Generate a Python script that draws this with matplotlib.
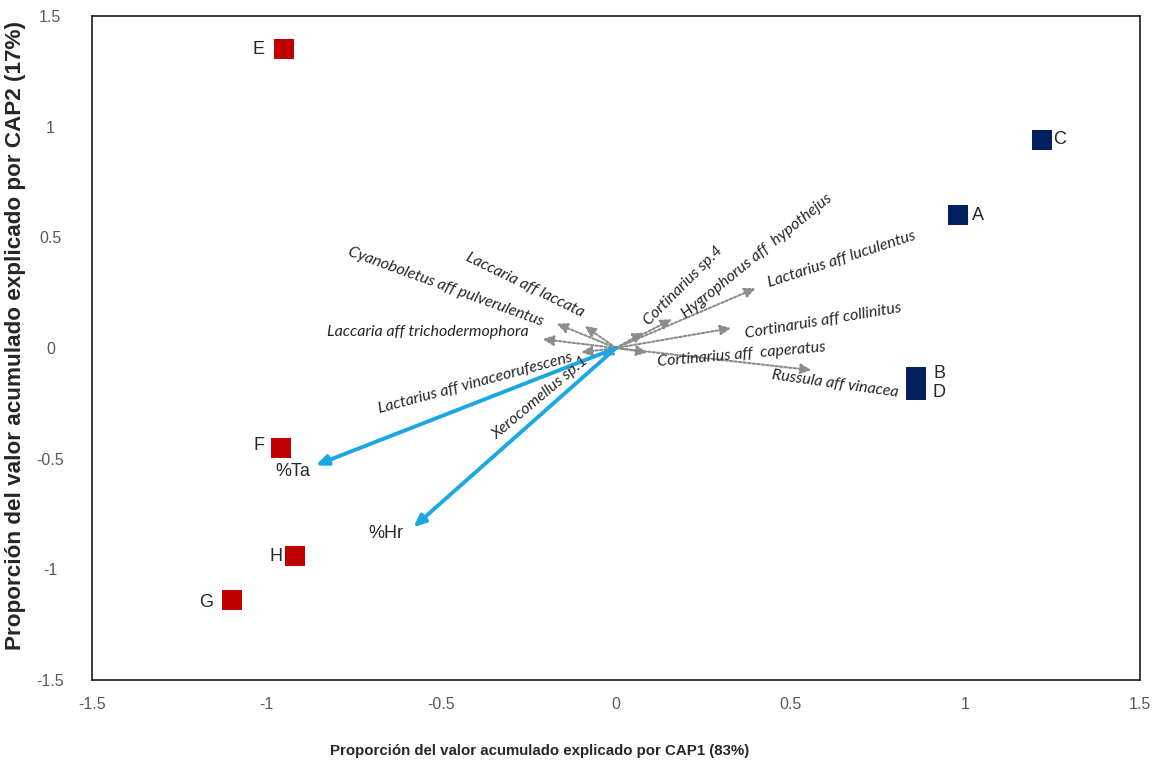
#!/usr/bin/env python3
"""CAP biplot: sites on the first two canonical axes with species and climate vectors."""

import matplotlib as mpl
import matplotlib.pyplot as plt

RED = "#C00000"
NAVY = "#002060"
SKY = "#1AA7E3"
ARROW_GREY = "#8C8C8C"
TICK_GREY = "#595959"
INK = "#262626"

# site scores
sites_red = ["E", "F", "H", "G"]
red_x = [-0.95, -0.96, -0.92, -1.10]
red_y = [1.35, -0.45, -0.94, -1.14]

sites_navy = ["C", "A", "B", "D"]
navy_x = [1.22, 0.98, 0.86, 0.86]
navy_y = [0.94, 0.60, -0.13, -0.19]

# environmental vectors
env_names = ["%Ta", "%Hr"]
env_x = [-0.86, -0.58]
env_y = [-0.53, -0.81]

# species vectors
species = [
    "Laccaria aff laccata",
    "Cyanoboletus aff pulverulentus",
    "Laccaria aff trichodermophora",
    "Lactarius aff vinaceorufescens",
    "Xerocomellus sp.1",
    "Cortinarius sp.4",
    "Hygrophorus aff  hypothejus",
    "Lactarius aff luculentus",
    "Cortinaruis aff collinitus",
    "Cortinarius aff  caperatus",
    "Russula aff vinacea",
]
species_x = [-0.09, -0.17, -0.21, -0.10, -0.04, 0.08, 0.16, 0.40, 0.33, 0.09, 0.56]
species_y = [0.10, 0.11, 0.04, -0.02, -0.04, 0.07, 0.13, 0.27, 0.09, -0.02, -0.10]

x_ticks = [-1.5, -1, -0.5, 0, 0.5, 1, 1.5]
y_ticks = [-1.5, -1, -0.5, 0, 0.5, 1, 1.5]

# label placement: (x, y, rotation) for each species name
SPECIES_LABELS = {
    "Laccaria aff laccata": (-0.26, 0.285, -26),
    "Cyanoboletus aff pulverulentus": (-0.487, 0.276, -20),
    "Laccaria aff trichodermophora": (-0.538, 0.072, 0),
    "Lactarius aff vinaceorufescens": (-0.404, -0.158, 15),
    "Xerocomellus sp.1": (-0.218, -0.226, 40),
    "Cortinarius sp.4": (0.192, 0.28, 45),
    "Hygrophorus aff  hypothejus": (0.404, 0.416, 39),
    "Lactarius aff luculentus": (0.647, 0.402, 18),
    "Cortinaruis aff collinitus": (0.593, 0.122, 9.5),
    "Cortinarius aff  caperatus": (0.358, -0.032, 5),
    "Russula aff vinacea": (0.627, -0.163, -8),
}
# site label offsets from the marker centre (dx, dy)
SITE_OFFSETS = {
    "E": (-0.074, 0.0),
    "F": (-0.063, 0.01),
    "H": (-0.052, 0.0),
    "G": (-0.074, -0.01),
    "C": (0.05, 0.0),
    "A": (0.057, 0.0),
    "B": (0.066, 0.017),
    "D": (0.066, -0.013),
}
ENV_OFFSETS = {
    "%Ta": (-0.065, -0.03),
    "%Hr": (-0.08, -0.03),
}


def main() -> None:
    mpl.rcParams.update(
        {
            "font.family": ["Liberation Sans", "DejaVu Sans"],
            "axes.linewidth": 1.2,
            "axes.edgecolor": "#1a1a1a",
        }
    )
    fig = plt.figure(figsize=(11.57, 7.61), dpi=100, facecolor="white")
    ax = fig.add_axes([0.0795, 0.1064, 0.9058, 0.8726])

    # species vectors: dotted grey
    for name, sx, sy in zip(species, species_x, species_y):
        ax.annotate(
            "",
            xy=(sx, sy),
            xytext=(0, 0),
            arrowprops=dict(
                arrowstyle="-|>,head_length=0.65,head_width=0.3",
                color=ARROW_GREY,
                lw=1.5,
                linestyle=(0, (1.2, 1.0)),
                shrinkA=0,
                shrinkB=0,
            ),
            zorder=2,
        )
        lx, ly, rot = SPECIES_LABELS[name]
        ax.text(
            lx, ly, name,
            rotation=rot, rotation_mode="anchor",
            ha="center", va="center",
            fontsize=11.5, style="italic", color=INK,
            family=["Lato", "DejaVu Sans"],
            zorder=4,
        )

    # climate vectors: solid blue
    for name, ex, ey in zip(env_names, env_x, env_y):
        ax.annotate(
            "",
            xy=(ex, ey),
            xytext=(0, 0),
            arrowprops=dict(
                arrowstyle="-|>,head_length=0.7,head_width=0.3",
                color=SKY,
                lw=2.8,
                shrinkA=0,
                shrinkB=0,
            ),
            zorder=3,
        )
        dx, dy = ENV_OFFSETS[name]
        ax.text(ex + dx, ey + dy, name, ha="center", va="center", fontsize=13, color=INK, zorder=4)

    ax.scatter(red_x, red_y, marker="s", s=210, color=RED, linewidths=0, zorder=5)
    ax.scatter(navy_x, navy_y, marker="s", s=210, color=NAVY, linewidths=0, zorder=5)
    for name, px, py in zip(sites_red + sites_navy, red_x + navy_x, red_y + navy_y):
        dx, dy = SITE_OFFSETS[name]
        ax.text(px + dx, py + dy, name, ha="center", va="center", fontsize=13, color=INK, zorder=6)

    ax.set_xlim(-1.5, 1.5)
    ax.set_ylim(-1.5, 1.5)
    ax.set_xticks(x_ticks, [f"{t:g}" for t in x_ticks])
    ax.set_yticks(y_ticks, [f"{t:g}" for t in y_ticks])
    ax.tick_params(length=0, pad=12, labelsize=11.5, colors=TICK_GREY)
    ax.tick_params(axis="y", pad=30)
    for lab in ax.get_yticklabels():
        lab.set_horizontalalignment("center")

    ax.set_xlabel(
        "Proporción del valor acumulado explicado por CAP1 (83%)",
        fontsize=10.8, fontweight="bold", color=INK,
    )
    ax.xaxis.set_label_coords(0.4275, -0.097)
    ax.set_ylabel(
        "Proporción del valor acumulado explicado por CAP2 (17%)",
        fontsize=16.2, fontweight="bold", color=INK,
    )
    ax.yaxis.set_label_coords(-0.063, 0.519)

    fig.savefig("out.png", dpi=100, facecolor="white")
    plt.close(fig)


if __name__ == "__main__":
    main()
